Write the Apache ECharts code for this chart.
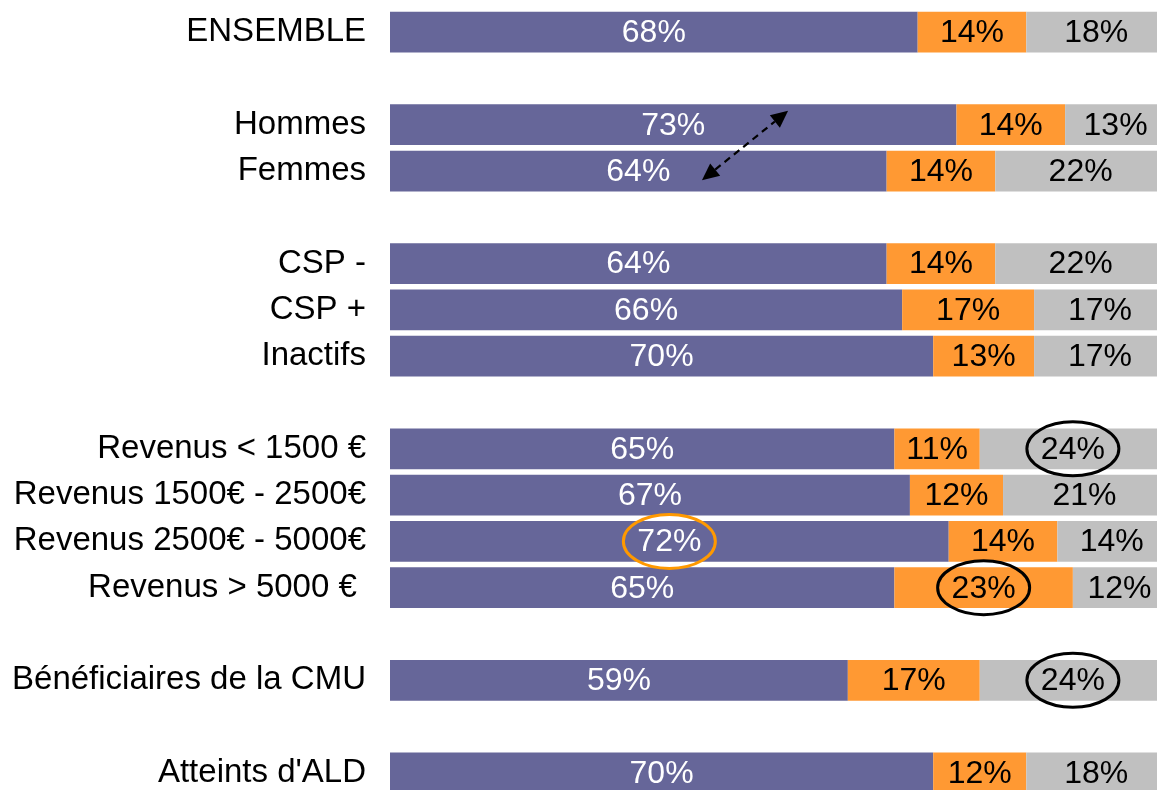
<!DOCTYPE html>
<html>
<head>
<meta charset="utf-8">
<script src="https://cdn.jsdelivr.net/npm/echarts@6/dist/echarts.min.js"></script>
<style>
html, body { margin: 0; padding: 0; background: #fff; }
#chart { width: 1157px; height: 790px; }
</style>
</head>
<body>
<div id="chart"></div>
<script>
// categories (blank entries are the spacer rows)
var categories = ['ENSEMBLE', ' ', 'Hommes', 'Femmes', '  ', 'CSP -', 'CSP +', 'Inactifs', '   ',
    'Revenus < 1500 €', 'Revenus 1500€ - 2500€', 'Revenus 2500€ - 5000€', 'Revenus > 5000 € ', '    ',
    'Bénéficiaires de la CMU', '     ', "Atteints d'ALD"];
var purpleVals = [68, '-', 73, 64, '-', 64, 66, 70, '-', 65, 67, 72, 65, '-', 59, '-', 70];
var orangeVals = [14, '-', 14, 14, '-', 14, 17, 13, '-', 11, 12, 14, 23, '-', 17, '-', 12];
var greyVals = [18, '-', 13, 22, '-', 22, 17, 17, '-', 24, 21, 14, 12, '-', 24, '-', 18];

// circled labels: [category, series index, colour]
var circled = [
    ['Revenus < 1500 €', 2, '#000'],
    ['Revenus 2500€ - 5000€', 0, '#ff9900'],
    ['Revenus > 5000 € ', 1, '#000'],
    ['Bénéficiaires de la CMU', 2, '#000']
];

var myChart = echarts.init(document.getElementById('chart'));
var font = 'Liberation Sans, Arial, sans-serif';

function barSeries(name, data, color, txt) {
    return {
        name: name,
        type: 'bar',
        stack: 'tot',
        data: data,
        barCategoryGap: '12%',
        itemStyle: { color: color },
        label: {
            show: true,
            position: 'inside',
            formatter: '{c}%',
            color: txt,
            fontSize: 32,
            fontFamily: font,
            offset: [0, 1]
        },
        emphasis: { disabled: true }
    };
}

var option = {
    animation: false,
    grid: { left: 390, top: 9, width: 776, height: 787, outerBoundsMode: 'none', containLabel: false },
    xAxis: { type: 'value', min: 0, max: 100, show: false },
    yAxis: {
        type: 'category',
        inverse: true,
        data: categories,
        axisLine: { show: false },
        axisTick: { show: false },
        axisLabel: { color: '#000', fontSize: 33, fontFamily: font, margin: 24, padding: [3, 0, 0, 0] }
    },
    series: [
        barSeries('a', purpleVals, '#666699', '#fff'),
        barSeries('b', orangeVals, '#ff9933', '#000'),
        barSeries('c', greyVals, '#c0c0c0', '#000')
    ]
};
myChart.setOption(option);

// annotations placed from the data coordinates
var all = [purpleVals, orangeVals, greyVals];
var graphics = [];
circled.forEach(function (c) {
    var i = categories.indexOf(c[0]);
    var start = 0;
    for (var s = 0; s < c[1]; s++) start += all[s][i];
    var p = myChart.convertToPixel({ gridIndex: 0 }, [start + all[c[1]][i] / 2, i]);
    graphics.push({
        type: 'ellipse',
        shape: { cx: p[0], cy: p[1], rx: 46, ry: 27 },
        style: { fill: null, stroke: c[2], lineWidth: 3 },
        z: 100
    });
});

// dashed double arrow between Hommes and Femmes
var row = myChart.convertToPixel({ gridIndex: 0 }, [0, 3])[1] - myChart.convertToPixel({ gridIndex: 0 }, [0, 2])[1];
var a = myChart.convertToPixel({ gridIndex: 0 }, [40.2, 3]);
var b = myChart.convertToPixel({ gridIndex: 0 }, [51.3, 2]);
a[1] += 0.2 * row;
b[1] -= 0.3 * row;
var dx = b[0] - a[0], dy = b[1] - a[1], len = Math.sqrt(dx * dx + dy * dy);
var ux = dx / len, uy = dy / len, nx = -uy, ny = ux;
var L = 17, W = 8;
function head(t, dir) {
    return {
        type: 'polygon',
        shape: { points: [
            [t[0], t[1]],
            [t[0] - dir * L * ux + W * nx, t[1] - dir * L * uy + W * ny],
            [t[0] - dir * L * ux - W * nx, t[1] - dir * L * uy - W * ny]
        ] },
        style: { fill: '#000' },
        z: 100
    };
}
graphics.push({
    type: 'line',
    shape: { x1: a[0] + ux * L, y1: a[1] + uy * L, x2: b[0] - ux * L, y2: b[1] - uy * L },
    style: { stroke: '#000', lineWidth: 2.2, lineDash: [7, 5] },
    z: 100
});
graphics.push(head(b, 1));
graphics.push(head(a, -1));

myChart.setOption({ graphic: graphics });
</script>
</body>
</html>
